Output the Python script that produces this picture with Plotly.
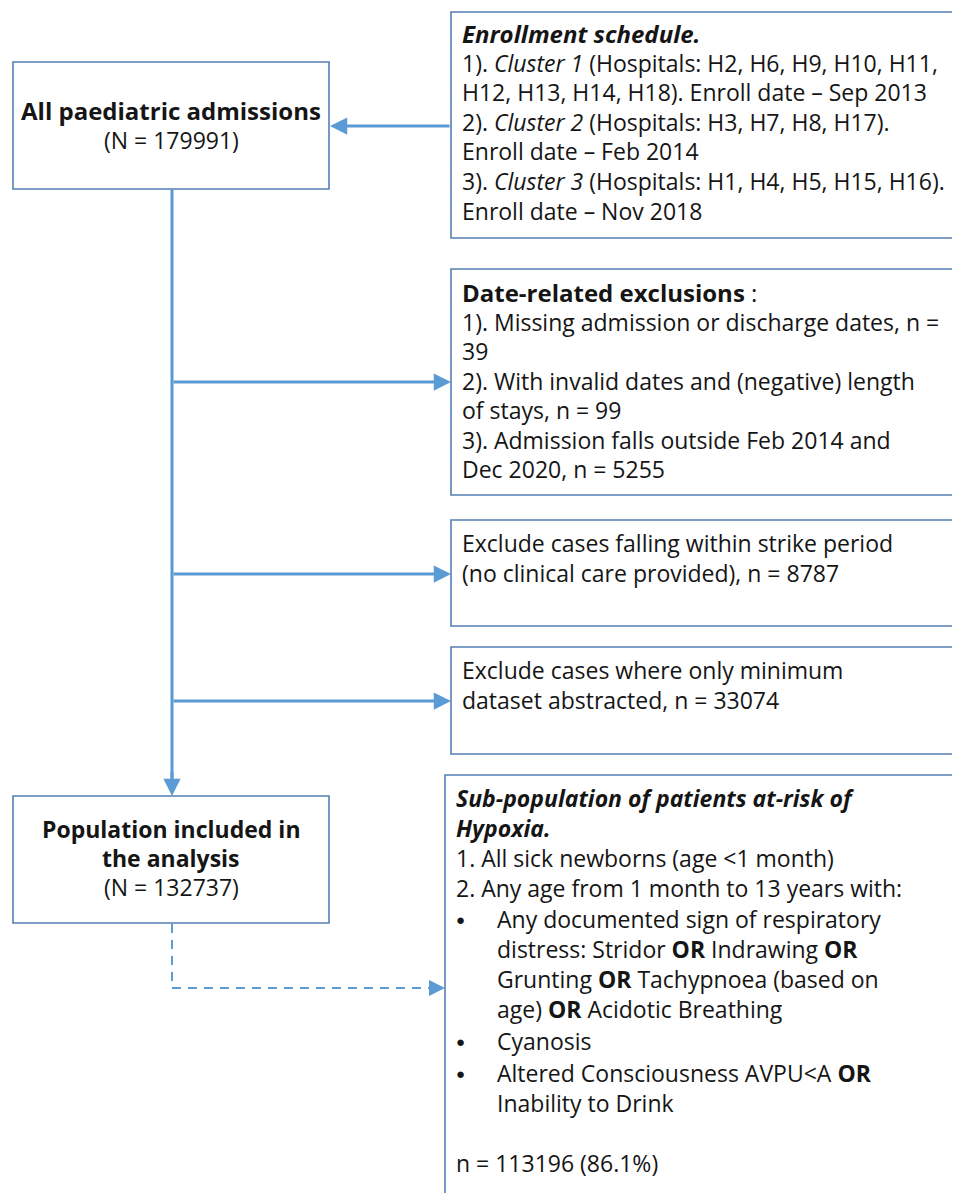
import plotly.graph_objects as go

# Text content of the flow chart, box by box.
ADMISSIONS_LABEL = ["<b>All paediatric admissions</b>", "(N = 179991)"]
ANALYSIS_LABEL = ["<b>Population included in</b>", "<b>the analysis</b>", "(N = 132737)"]

ENROLLMENT_LINES = [
    "<b><i>Enrollment schedule.</i></b>",
    "1). <i>Cluster 1</i> (Hospitals: H2, H6, H9, H10, H11,",
    "H12, H13, H14, H18). Enroll date \u2013 Sep 2013",
    "2). <i>Cluster 2</i> (Hospitals: H3, H7, H8, H17).",
    "Enroll date \u2013 Feb 2014",
    "3). <i>Cluster 3</i> (Hospitals: H1, H4, H5, H15, H16).",
    "Enroll date \u2013 Nov 2018",
]

DATE_LINES = [
    "<b>Date-related exclusions</b> :",
    "1). Missing admission or discharge dates, n =",
    "39",
    "2). With invalid dates and (negative) length",
    "of stays, n = 99",
    "3). Admission falls outside Feb 2014 and",
    "Dec 2020, n = 5255",
]

STRIKE_LINES = [
    "Exclude cases falling within strike period",
    "(no clinical care provided), n = 8787",
]

MINIMUM_LINES = [
    "Exclude cases where only minimum",
    "dataset abstracted, n = 33074",
]

# (bullet?, text) for the at-risk sub-population box
HYPOXIA_LINES = [
    (False, "<b><i>Sub-population of patients at-risk of</i></b>"),
    (False, "<b><i>Hypoxia.</i></b>"),
    (False, "1. All sick newborns (age <1 month)"),
    (False, "2. Any age from 1 month to 13 years with:"),
    (True, "Any documented sign of respiratory"),
    (None, "distress: Stridor <b>OR</b> Indrawing <b>OR</b>"),
    (None, "Grunting <b>OR</b> Tachypnoea (based on"),
    (None, "age) <b>OR</b> Acidotic Breathing"),
    (True, "Cyanosis"),
    (True, "Altered Consciousness AVPU<A <b>OR</b>"),
    (None, "Inability to Drink"),
    (False, ""),
    (False, "n = 113196 (86.1%)"),
]

# ---- layout (pixel coordinates of the page, y grows downward) ----
W, H = 960, 1193
PAD = 8  # the page body margin; the figure starts 8px in
FONT = "Open Sans"
INK = "#151515"
BOX = "#557fb4"
ARROW = "#5b9bd5"
SIZE = 23
BOLD_SIZE = 24

fig = go.Figure()


def box(x0, y0, x1, y1):
    fig.add_shape(type="rect", x0=x0, y0=y0, x1=x1, y1=y1,
                  line=dict(color=BOX, width=1.6), fillcolor="white", layer="below")


def text(x, y, s, anchor="left", size=None):
    if not s:
        return
    if size is None:
        size = BOLD_SIZE if s.startswith("<b>") else SIZE
    fig.add_annotation(x=x, y=y, text=s, showarrow=False, xanchor=anchor, yanchor="middle",
                       font=dict(family=FONT, size=size, color=INK))


def arrow(x0, y0, x1, y1, width=3, size=1.15):
    fig.add_annotation(x=x1, y=y1, ax=x0, ay=y0, xref="x", yref="y", axref="x", ayref="y",
                       text="", showarrow=True, arrowhead=2, arrowsize=size,
                       arrowwidth=width, arrowcolor=ARROW, standoff=0)


# boxes
box(13, 62, 329, 189)
box(451, 12, 975, 238)
box(451, 269, 975, 495)
box(451, 520, 975, 626)
box(451, 647, 975, 754)
box(13, 796, 329, 923)
box(445, 775, 975, 1210)

# connectors
fig.add_shape(type="line", x0=172, y0=189, x1=172, y1=785,
              line=dict(color=ARROW, width=3))
arrow(172, 770, 172, 796)
arrow(451, 126, 330, 126)
for yy in (382, 574, 701):
    arrow(172, yy, 451, yy)

# dashed link to sub-population
fig.add_shape(type="line", x0=172, y0=924, x1=172, y1=988,
              line=dict(color=ARROW, width=2, dash="9px,7px"))
fig.add_shape(type="line", x0=172, y0=988, x1=430, y1=988,
              line=dict(color=ARROW, width=2, dash="9px,7px"))
arrow(432, 988, 445, 988, width=2, size=1.6)

# box texts
text(171, 110, ADMISSIONS_LABEL[0], anchor="center")
text(171, 140, ADMISSIONS_LABEL[1], anchor="center")
for s, yy in zip(ANALYSIS_LABEL, (829, 858, 887)):
    text(171, yy, s, anchor="center", size=SIZE)

for i, s in enumerate(ENROLLMENT_LINES):
    text(460, 33 + 29.6 * i, s)
for i, s in enumerate(DATE_LINES):
    text(460, 292 + 29.5 * i, s)
for i, s in enumerate(STRIKE_LINES):
    text(460, 543 + 30 * i, s)
for i, s in enumerate(MINIMUM_LINES):
    text(460, 670 + 30 * i, s)

hyp_y = [798, 828, 858, 888, 919, 949, 979, 1009, 1041, 1073, 1103, 1133, 1163]
for (bullet, s), yy in zip(HYPOXIA_LINES, hyp_y):
    if bullet is True:
        text(460, yy, "\u25cf", anchor="center", size=15)
    text(495 if bullet is not False else 454, yy, s, size=SIZE)

fig.update_layout(
    width=W - PAD, height=H - PAD,
    margin=dict(l=0, r=0, t=0, b=0),
    paper_bgcolor="white", plot_bgcolor="white",
    showlegend=False,
    xaxis=dict(range=[PAD, W], visible=False, fixedrange=True),
    yaxis=dict(range=[H, PAD], visible=False, fixedrange=True),
)
fig.write_html("out.html")
